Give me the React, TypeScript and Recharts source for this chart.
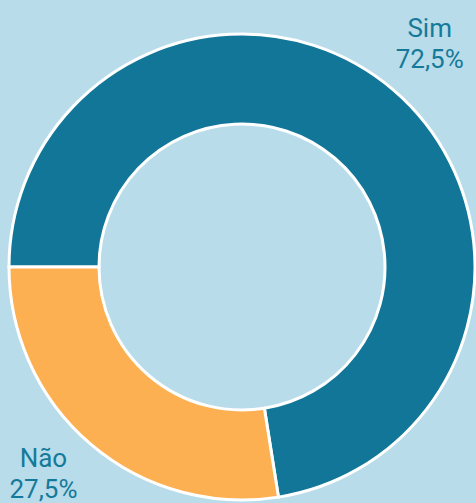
import React from "react";
import { PieChart, Pie, Cell } from "recharts";

const categories = ["Sim", "Não"];
const values = [72.5, 27.5];
const valueLabels = ["72,5%", "27,5%"];
const colors = ["#117697", "#FDB052"];

const data = categories.map((name, i) => ({ name, value: values[i], label: valueLabels[i] }));

const W = 476;
const H = 503;
const CX = 242;
const CY = 267;
const TEXT = "#157a99";

const renderLabel = (props: any) => {
  const { cx, cy, midAngle, outerRadius, index } = props;
  const RAD = Math.PI / 180;
  const r = outerRadius + 56;
  let x = cx + r * Math.cos(-midAngle * RAD);
  let y = cy + r * Math.sin(-midAngle * RAD);
  const maxY = H - 5 - 21;
  const minY = 10 + 5;
  if (y > maxY || y < minY) {
    y = Math.min(maxY, Math.max(minY, y));
    const dy = y - cy;
    const dx = Math.sqrt(Math.max(0, r * r - dy * dy));
    x = x < cx ? cx - dx : cx + dx;
  }
  return (
    <text
      x={x}
      y={y}
      textAnchor="middle"
      fill={TEXT}
      fontSize={26}
      fontFamily="Roboto, sans-serif"
    >
      <tspan x={x} y={y - 10}>{categories[index]}</tspan>
      <tspan x={x} y={y + 21}>{valueLabels[index]}</tspan>
    </text>
  );
};

export default function App() {
  return (
    <div
      style={{
        position: "fixed",
        left: 0,
        top: 0,
        width: W,
        height: H,
        background: "#b8dcea",
        overflow: "hidden",
      }}
    >
      <PieChart width={W} height={H} margin={{ top: 0, right: 0, bottom: 0, left: 0 }}>
        <Pie
          data={data}
          dataKey="value"
          nameKey="name"
          cx={CX}
          cy={CY}
          innerRadius={143}
          outerRadius={233}
          startAngle={180}
          endAngle={-180}
          stroke="#ffffff"
          strokeWidth={3}
          label={renderLabel}
          labelLine={false}
          isAnimationActive={false}
        >
          {data.map((d, i) => (
            <Cell key={d.name} fill={colors[i]} />
          ))}
        </Pie>
      </PieChart>
    </div>
  );
}
